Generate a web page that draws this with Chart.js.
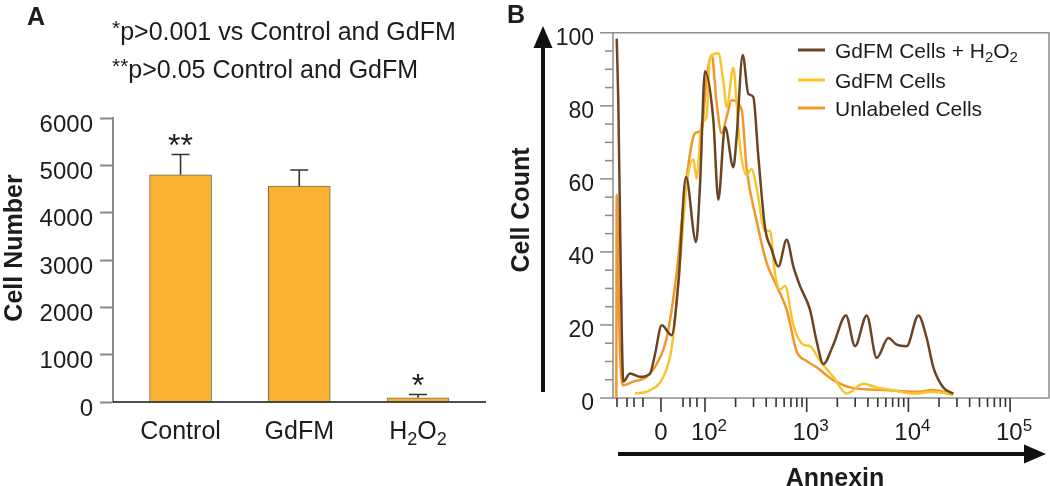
<!DOCTYPE html>
<html><head><meta charset="utf-8">
<script src="https://cdn.jsdelivr.net/npm/chart.js@4.4.1/dist/chart.umd.min.js"></script>
<style>
html,body{margin:0;padding:0;background:#fff;overflow:hidden}
#wrap{position:relative;width:1050px;height:486px;background:#fff}
canvas{position:absolute;top:0}
#ca{left:0}
#cb{left:500px}
</style></head><body>
<div id="wrap"><canvas id="ca" width="500" height="486"></canvas><canvas id="cb" width="550" height="486"></canvas></div>
<script>
// ---------------- Panel A data ----------------
const groups = ['Control', 'GdFM', 'H2O2'];
const cellNumber = [4800, 4560, 90];
const cellError = [430, 340, 70];
const significance = ['**', '', '*'];
const notes = ['*p>0.001 vs Control and GdFM', '**p>0.05 Control and GdFM'];
const yTitleA = 'Cell Number';

// ---------------- Panel B data ----------------
// x in display decades of Annexin fluorescence (10^2 -> 2, 10^3 -> 3 ...)
const seriesNames = ['GdFM Cells + H2O2', 'GdFM Cells', 'Unlabeled Cells'];
const brownX = [1.132, 1.148, 1.171, 1.197, 1.263, 1.361, 1.459, 1.508, 1.574, 1.672, 1.738, 1.813, 1.912, 1.951, 2.000, 2.082, 2.131, 2.197, 2.279, 2.311, 2.371, 2.426, 2.475, 2.524, 2.590, 2.656, 2.721, 2.803, 2.869, 2.934, 3.032, 3.098, 3.164, 3.262, 3.386, 3.475, 3.590, 3.688, 3.803, 3.885, 3.983, 4.098, 4.180, 4.245, 4.343, 4.441];
const brownY = [98.4, 80.6, 36.0, 4.5, 6.7, 5.8, 6.7, 11.9, 19.9, 17.2, 31.5, 60.5, 42.7, 58.3, 89.5, 76.1, 54.3, 74.2, 63.2, 71.6, 93.9, 83.3, 82.4, 66.3, 46.7, 40.6, 36.0, 43.3, 36.0, 30.7, 24.2, 15.5, 9.3, 14.6, 22.6, 14.2, 22.6, 11.0, 16.4, 14.6, 14.2, 22.6, 16.4, 8.4, 2.9, 1.2];
const yellowX = [1.312, 1.459, 1.590, 1.672, 1.738, 1.820, 1.885, 1.918, 1.967, 2.016, 2.049, 2.131, 2.180, 2.213, 2.279, 2.311, 2.344, 2.410, 2.459, 2.508, 2.590, 2.639, 2.688, 2.737, 2.787, 2.869, 2.967, 3.032, 3.131, 3.262, 3.393, 3.557, 3.688, 3.852, 4.048, 4.245, 4.441];
const yellowY = [1.2, 2.1, 5.8, 13.7, 31.5, 58.3, 65.4, 60.1, 75.2, 77.0, 93.0, 94.4, 86.8, 79.7, 90.4, 80.6, 69.0, 61.0, 62.7, 57.4, 45.8, 45.8, 34.2, 29.7, 30.7, 19.9, 14.6, 14.2, 10.1, 5.8, 1.2, 3.9, 2.9, 2.1, 1.2, 1.7, 0.9];
const orangeX = [1.128, 1.132, 1.158, 1.190, 1.295, 1.427, 1.525, 1.623, 1.721, 1.803, 1.902, 1.967, 2.016, 2.066, 2.115, 2.164, 2.213, 2.262, 2.361, 2.410, 2.508, 2.607, 2.705, 2.803, 2.901, 3.000, 3.098, 3.262, 3.458, 3.753, 4.082, 4.245, 4.441];
const orangeY = [0, 55.6, 18.2, 3.5, 4.5, 5.8, 9.3, 16.4, 34.2, 56.5, 72.5, 73.4, 87.7, 93.9, 80.6, 72.5, 77.0, 81.5, 78.8, 62.7, 48.5, 36.9, 30.7, 24.2, 12.8, 10.1, 8.4, 4.9, 2.7, 2.2, 1.7, 2.2, 0.9];
const xMajorPos = [1.567, 2, 3, 4, 5];
const xMajorLabels = ['0', '10^2', '10^3', '10^4', '10^5'];
const xNegMinorPos = [1.135, 1.233, 1.302, 1.390, 1.784, 1.853, 1.921];
const logDecades = [2, 3, 4];
const yTitleB = 'Cell Count';
const xTitleB = 'Annexin';

// ---------------- helpers ----------------
const FONT = '"Liberation Sans", Arial, Helvetica, sans-serif';
const TEXT = '#1c1c1c';
const COLORS = ['#6b4423', '#f7c52e', '#f0982b'];

function parts(str) {
  const out = [];
  const m = str.match(/^(\*+)(.*)$/);
  if (m) { out.push([m[1], 2]); str = m[2]; }
  const e = str.match(/^(.*)\^(.*)$/);
  if (e) { out.push([e[1], 0]); out.push([e[2], 1]); return out; }
  let buf = '';
  for (let i = 0; i < str.length; i++) {
    const c = str[i];
    if (/[0-9]/.test(c) && i > 0 && /[A-Z]/.test(str[i - 1])) {
      if (buf) out.push([buf, 0]);
      out.push([c, -1]); buf = '';
    } else buf += c;
  }
  if (buf) out.push([buf, 0]);
  return out;
}
function drawRich(ctx, str, x, y, size, align, weight) {
  const ps = parts(str);
  const w0 = weight ? weight + ' ' : '';
  const fontFor = md => w0 + (md === 2 ? Math.round(size * 0.85) : md ? Math.round(size * 0.7) : size) + 'px ' + FONT;
  let w = 0;
  ps.forEach(([t, md]) => { ctx.font = fontFor(md); w += ctx.measureText(t).width; });
  let cx = align === 'center' ? x - w / 2 : align === 'right' ? x - w : x;
  ctx.textAlign = 'left'; ctx.textBaseline = 'alphabetic'; ctx.fillStyle = TEXT;
  ps.forEach(([t, md]) => {
    ctx.font = fontFor(md);
    const dy = md === 1 ? -size * 0.36 : md === 2 ? -size * 0.2 : md === -1 ? size * 0.22 : 0;
    ctx.fillText(t, cx, y + dy);
    cx += ctx.measureText(t).width;
  });
}
function rotText(ctx, str, cx, cy, size) {
  ctx.save();
  ctx.translate(cx, cy); ctx.rotate(-Math.PI / 2);
  ctx.font = 'bold ' + size + 'px ' + FONT;
  ctx.fillStyle = TEXT; ctx.textAlign = 'center'; ctx.textBaseline = 'alphabetic';
  ctx.fillText(str, 0, size * 0.36);
  ctx.restore();
}
function arrow(ctx, x1, y1, x2, y2) {
  const ang = Math.atan2(y2 - y1, x2 - x1), hl = 22, hw = 9.5;
  const bx = x2 - hl * Math.cos(ang), by = y2 - hl * Math.sin(ang);
  ctx.strokeStyle = '#111'; ctx.fillStyle = '#111'; ctx.lineWidth = 4;
  ctx.beginPath(); ctx.moveTo(x1, y1); ctx.lineTo(bx + 2 * Math.cos(ang), by + 2 * Math.sin(ang)); ctx.stroke();
  ctx.beginPath(); ctx.moveTo(x2, y2);
  ctx.lineTo(bx - hw * Math.sin(ang), by + hw * Math.cos(ang));
  ctx.lineTo(bx + hw * Math.sin(ang), by - hw * Math.cos(ang));
  ctx.closePath(); ctx.fill();
}

// ---------------- Panel A chart ----------------
const panelA = {
  id: 'panelA',
  afterDraw(chart) {
    const ctx = chart.ctx, xs = chart.scales.x, ys = chart.scales.y, a = chart.chartArea;
    ctx.save();
    // baseline
    ctx.strokeStyle = '#111'; ctx.lineWidth = 1.5;
    ctx.beginPath(); ctx.moveTo(a.left, ys.getPixelForValue(0)); ctx.lineTo(a.right, ys.getPixelForValue(0)); ctx.stroke();
    // error bars + significance marks
    groups.forEach((g, i) => {
      const x = xs.getPixelForValue(i);
      const y0 = ys.getPixelForValue(cellNumber[i]);
      const y1 = ys.getPixelForValue(cellNumber[i] + cellError[i]);
      ctx.strokeStyle = '#333'; ctx.lineWidth = 1.6;
      ctx.beginPath(); ctx.moveTo(x, y0); ctx.lineTo(x, y1); ctx.moveTo(x - 9, y1); ctx.lineTo(x + 9, y1); ctx.stroke();
      if (significance[i]) {
        ctx.font = '32px ' + FONT; ctx.fillStyle = TEXT; ctx.textAlign = 'center'; ctx.textBaseline = 'alphabetic';
        ctx.fillText(significance[i], x, y1 + 2);
      }
      drawRich(ctx, g, x, 439, 25, 'center');
    });
    // notes
    drawRich(ctx, notes[0], 112, 40, 25, 'left');
    drawRich(ctx, notes[1], 112, 78, 25, 'left');
    // panel letter
    ctx.font = 'bold 25px ' + FONT; ctx.fillStyle = TEXT; ctx.textAlign = 'left'; ctx.textBaseline = 'alphabetic';
    ctx.fillText('A', 27, 25);
    rotText(ctx, yTitleA, 13, 248, 25);
    ctx.restore();
  }
};

new Chart(document.getElementById('ca'), {
  type: 'bar',
  data: {
    datasets: [{
      data: groups.map((g, i) => ({ x: i, y: cellNumber[i] })),
      backgroundColor: '#fab232',
      borderColor: '#7d6a4a',
      borderWidth: 1,
      borderSkipped: 'bottom',
      barThickness: 62
    }]
  },
  options: {
    responsive: false, animation: false,
    layout: { padding: { left: 0, top: 118, right: 14, bottom: 84 } },
    plugins: { legend: { display: false }, tooltip: { enabled: false } },
    scales: {
      x: { type: 'linear', min: -0.569, max: 2.573, offset: false, display: false },
      y: {
        min: 0, max: 6000,
        afterFit: s => { s.width = 113; },
        ticks: { stepSize: 1000, callback: v => String(v), font: { size: 24, family: FONT }, color: TEXT, padding: 7, labelOffset: 7 },
        grid: { drawOnChartArea: false, tickLength: 13, tickColor: '#8a8a8a', tickWidth: 2 },
        border: { color: '#8a8a8a', width: 2 }
      }
    }
  },
  plugins: [panelA]
});

// ---------------- Panel B chart ----------------
const panelB = {
  id: 'panelB',
  beforeDatasetsDraw(chart) {
    const ctx = chart.ctx, xs = chart.scales.x, ys = chart.scales.y, a = chart.chartArea;
    ctx.save();
    ctx.strokeStyle = '#8c8c8c'; ctx.lineWidth = 1.5;
    ctx.strokeRect(a.left, a.top, a.right - a.left, a.bottom - a.top);
    // y ticks
    for (let v = 0; v <= 100; v += 5) {
      const y = ys.getPixelForValue(v), len = v % 20 === 0 ? 13 : 8;
      ctx.beginPath(); ctx.moveTo(a.left - len, y); ctx.lineTo(a.left, y); ctx.stroke();
    }
    // x ticks
    ctx.strokeStyle = '#333'; ctx.lineWidth = 1.6;
    const minor = xNegMinorPos.slice();
    logDecades.forEach(d => { for (let m = 2; m <= 9; m++) minor.push(d + Math.log10(m)); });
    minor.forEach(p => { const x = xs.getPixelForValue(p); ctx.beginPath(); ctx.moveTo(x, a.bottom); ctx.lineTo(x, a.bottom + 9); ctx.stroke(); });
    xMajorPos.forEach(p => { const x = xs.getPixelForValue(p); ctx.beginPath(); ctx.moveTo(x, a.bottom); ctx.lineTo(x, a.bottom + 14); ctx.stroke(); });
    ctx.restore();
  },
  afterDraw(chart) {
    const ctx = chart.ctx, xs = chart.scales.x, a = chart.chartArea;
    ctx.save();
    xMajorPos.forEach((p, i) => drawRich(ctx, xMajorLabels[i], xs.getPixelForValue(p) + (i ? 4 : 0), 440, 24, 'center'));
    // legend
    const rows = [50, 80, 108];
    seriesNames.forEach((n, i) => {
      ctx.strokeStyle = COLORS[i]; ctx.lineWidth = 3;
      ctx.beginPath(); ctx.moveTo(298, rows[i]); ctx.lineTo(325, rows[i]); ctx.stroke();
      drawRich(ctx, n, 335, rows[i] + 7.5, 21, 'left');
    });
    arrow(ctx, 43, 392, 43, 26);
    arrow(ctx, 118, 454, 546, 454);
    rotText(ctx, yTitleB, 20, 210, 25);
    ctx.font = 'bold 25px ' + FONT; ctx.fillStyle = TEXT; ctx.textAlign = 'center'; ctx.textBaseline = 'alphabetic';
    ctx.fillText(xTitleB, 335, 486);
    ctx.textAlign = 'left';
    ctx.fillText('B', 7, 23);
    ctx.restore();
  }
};

const mk = (xa, ya) => xa.map((x, i) => ({ x: x, y: ya[i] }));
new Chart(document.getElementById('cb'), {
  type: 'line',
  data: {
    datasets: [
      { label: seriesNames[0], data: mk(brownX, brownY), borderColor: COLORS[0] },
      { label: seriesNames[1], data: mk(yellowX, yellowY), borderColor: COLORS[1] },
      { label: seriesNames[2], data: mk(orangeX, orangeY), borderColor: COLORS[2] }
    ].map(d => Object.assign(d, { borderWidth: 2.5, pointRadius: 0, fill: false, cubicInterpolationMode: 'monotone' }))
  },
  options: {
    responsive: false, animation: false,
    layout: { padding: { left: 0, top: 24, right: 1, bottom: 88 } },
    plugins: { legend: { display: false }, tooltip: { enabled: false } },
    scales: {
      x: { type: 'linear', min: 1.0954, max: 5.3825, display: false },
      y: {
        min: 0, max: 100,
        afterFit: s => { s.width = 113; },
        ticks: { stepSize: 5, autoSkip: false, callback: v => (v % 20 === 0 ? v : ''), font: { size: 23, family: FONT }, color: TEXT, padding: 19, labelOffset: 6 },
        grid: { display: false, drawTicks: false },
        border: { display: false }
      }
    }
  },
  plugins: [panelB]
});
</script>
</body></html>
